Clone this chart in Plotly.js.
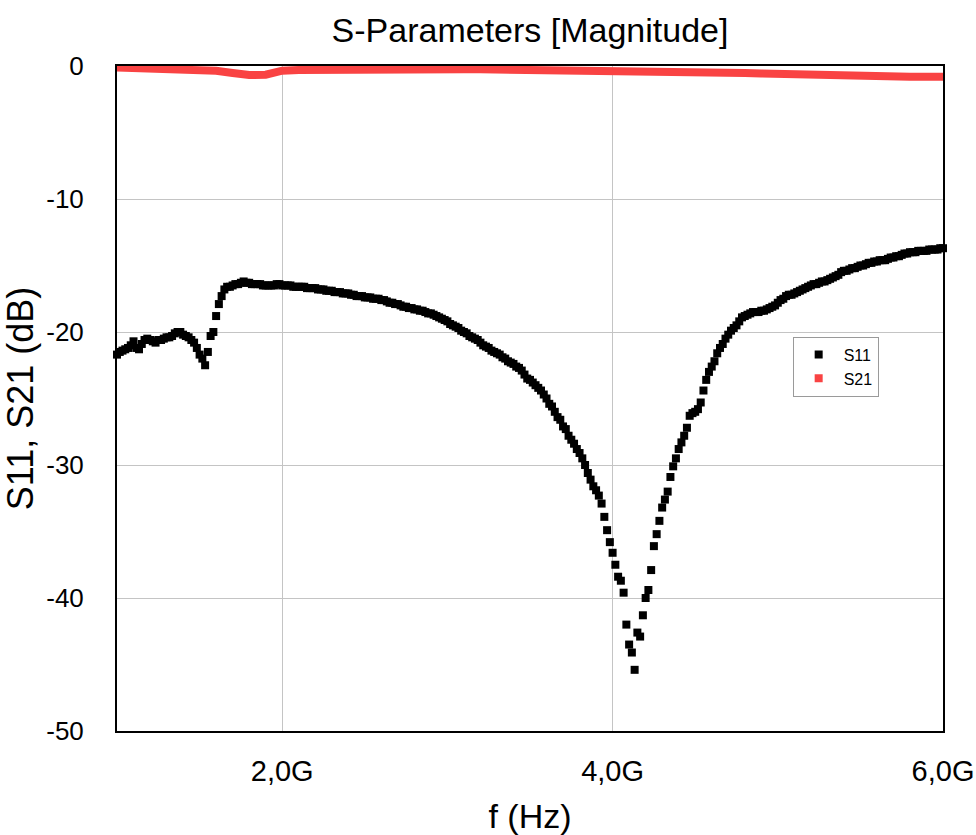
<!DOCTYPE html>
<html>
<head>
<meta charset="utf-8">
<script src="https://cdn.plot.ly/plotly-3.0.1.min.js"></script>
<style>html,body{margin:0;padding:0;background:#fff;}#chart{width:976px;height:835px;}</style>
</head>
<body>
<div id="chart"></div>
<script>
// Frequency sweep (GHz) of the S11 measurement: 301 points, 1 GHz .. 6 GHz
const sweepStart = 1.0;
const sweepStop = 6.0;
const sweepPoints = 301;

// S11 magnitude (dB), one value per sweep point
const s11 = [
  -21.7,-21.5,-21.4,-21.3,-21.2,-21.0,-20.7,-21.2,-21.3,-20.9,
  -20.6,-20.5,-20.6,-20.7,-20.8,-20.6,-20.6,-20.5,-20.4,-20.4,
  -20.3,-20.1,-20.0,-20.0,-20.2,-20.3,-20.4,-20.6,-20.8,-21.2,
  -21.7,-22.0,-22.5,-21.5,-20.3,-20.0,-18.8,-17.9,-17.3,-16.8,
  -16.6,-16.6,-16.5,-16.4,-16.4,-16.3,-16.2,-16.3,-16.3,-16.4,
  -16.4,-16.4,-16.4,-16.5,-16.5,-16.5,-16.5,-16.5,-16.4,-16.4,
  -16.5,-16.5,-16.5,-16.5,-16.6,-16.6,-16.6,-16.6,-16.6,-16.7,
  -16.7,-16.7,-16.7,-16.8,-16.8,-16.8,-16.9,-16.9,-16.9,-17.0,
  -17.0,-17.0,-17.1,-17.1,-17.1,-17.2,-17.2,-17.3,-17.3,-17.3,
  -17.4,-17.4,-17.4,-17.5,-17.5,-17.5,-17.6,-17.6,-17.7,-17.8,
  -17.8,-17.9,-17.9,-18.0,-18.1,-18.1,-18.2,-18.2,-18.3,-18.3,
  -18.4,-18.4,-18.5,-18.6,-18.6,-18.7,-18.8,-18.9,-19.0,-19.1,
  -19.2,-19.4,-19.5,-19.6,-19.7,-19.9,-20.0,-20.1,-20.3,-20.4,
  -20.5,-20.6,-20.8,-21.0,-21.1,-21.2,-21.4,-21.5,-21.6,-21.7,
  -21.9,-22.0,-22.2,-22.3,-22.4,-22.6,-22.7,-22.9,-23.2,-23.5,
  -23.6,-23.8,-24.0,-24.2,-24.4,-24.7,-25.0,-25.4,-25.6,-26.0,
  -26.4,-26.6,-27.1,-27.3,-27.8,-28.1,-28.4,-28.8,-29.1,-29.5,
  -30.0,-30.6,-31.1,-31.6,-31.9,-32.3,-32.9,-33.9,-34.9,-35.8,
  -36.6,-37.5,-38.4,-38.7,-39.6,-42.0,-43.5,-44.1,-45.4,-42.6,
  -42.9,-41.3,-40.0,-39.4,-37.9,-36.1,-35.2,-34.2,-33.2,-32.6,
  -32.0,-30.9,-30.1,-29.5,-28.8,-28.3,-27.8,-27.2,-26.3,-26.1,
  -26.0,-25.8,-25.3,-24.4,-23.6,-23.0,-22.6,-22.2,-21.6,-21.2,
  -20.9,-20.5,-20.2,-19.9,-19.7,-19.5,-19.2,-18.9,-18.8,-18.7,
  -18.6,-18.5,-18.5,-18.5,-18.4,-18.4,-18.3,-18.2,-18.1,-18.0,
  -17.8,-17.6,-17.5,-17.3,-17.2,-17.2,-17.1,-17.0,-16.9,-16.8,
  -16.7,-16.6,-16.5,-16.4,-16.4,-16.3,-16.2,-16.2,-16.1,-16.0,
  -15.9,-15.8,-15.7,-15.5,-15.4,-15.4,-15.3,-15.2,-15.2,-15.1,
  -15.0,-15.0,-14.9,-14.8,-14.8,-14.7,-14.7,-14.6,-14.6,-14.6,
  -14.5,-14.4,-14.4,-14.3,-14.3,-14.2,-14.1,-14.1,-14.0,-14.0,
  -14.0,-13.9,-13.9,-13.9,-13.9,-13.8,-13.8,-13.8,-13.8,-13.7,
  -13.7
];

// S21 magnitude (dB), read every 0.1 GHz
const s21Freq = [1.0,1.1,1.2,1.3,1.4,1.5,1.6,1.7,1.8,1.9,2.0,2.1,2.2,2.3,2.4,2.5,2.6,2.7,2.8,2.9,
  3.0,3.1,3.2,3.3,3.4,3.5,3.6,3.7,3.8,3.9,4.0,4.1,4.2,4.3,4.4,4.5,4.6,4.7,4.8,4.9,
  5.0,5.1,5.2,5.3,5.4,5.5,5.6,5.7,5.8,5.9,6.0];
const s21 = [-0.12,-0.14,-0.17,-0.20,-0.23,-0.27,-0.36,-0.52,-0.68,-0.65,-0.35,-0.30,-0.28,-0.26,-0.25,-0.24,-0.22,-0.21,-0.21,-0.22,
  -0.23,-0.24,-0.25,-0.26,-0.27,-0.28,-0.28,-0.29,-0.29,-0.30,-0.30,-0.31,-0.32,-0.34,-0.37,-0.40,-0.44,-0.48,-0.52,-0.56,
  -0.60,-0.63,-0.66,-0.69,-0.72,-0.75,-0.78,-0.80,-0.80,-0.80,-0.80];

// Axis ticks
const xTickVals = [2, 4, 6];
const xTickText = ['2,0G', '4,0G', '6,0G'];
const yTickVals = [0, -10, -20, -30, -40, -50];
const yTickText = ['0', '-10', '-20', '-30', '-40', '-50'];

const s11Freq = [];
for (let i = 0; i < sweepPoints; i++) {
  s11Freq.push(sweepStart + i * (sweepStop - sweepStart) / (sweepPoints - 1));
}

const FONT = '"Liberation Sans", Arial, sans-serif';

const traces = [
  {
    x: s21Freq, y: s21, name: 'S21', mode: 'lines', showlegend: false,
    legendgroup: 's21',
    line: {color: '#f94343', width: 8}, cliponaxis: false
  },
  {
    x: s11Freq, y: s11, name: 'S11', mode: 'markers',
    marker: {symbol: 'square', size: 8, color: '#000000'}, cliponaxis: false
  },
  {
    x: [null], y: [null], name: 'S21', mode: 'markers', legendgroup: 's21',
    marker: {symbol: 'square', size: 8, color: '#f94343'}
  }
];

const layout = {
  width: 976, height: 835,
  margin: {l: 117, r: 33, t: 66, b: 104},
  paper_bgcolor: '#ffffff', plot_bgcolor: '#ffffff',
  font: {family: FONT, color: '#000000'},
  title: {
    text: 'S-Parameters [Magnitude]',
    font: {family: FONT, size: 34, color: '#000000'},
    x: 0.5, xref: 'paper', xanchor: 'center',
    y: 0.964, yref: 'container', yanchor: 'middle'
  },
  xaxis: {
    range: [1, 6], tickvals: xTickVals, ticktext: xTickText,
    showgrid: true, gridcolor: '#c4c4c4', gridwidth: 1,
    showline: true, linecolor: '#000000', linewidth: 2, mirror: true,
    ticks: '', ticklabelstandoff: 13, zeroline: false,
    tickfont: {family: FONT, size: 29, color: '#000000'},
    title: {text: 'f (Hz)', font: {family: FONT, size: 34, color: '#000000'}, standoff: 21}
  },
  yaxis: {
    range: [-50, 0], tickvals: yTickVals, ticktext: yTickText,
    showgrid: true, gridcolor: '#c4c4c4', gridwidth: 1,
    showline: true, linecolor: '#000000', linewidth: 2, mirror: true,
    ticks: '', ticklabelstandoff: 26, zeroline: false,
    tickfont: {family: FONT, size: 26, color: '#000000'},
    title: {text: 'S11, S21 (dB)', font: {family: FONT, size: 36, color: '#000000'}, standoff: 8}
  },
  legend: {
    x: 0.818, y: 0.593, xanchor: 'left', yanchor: 'top',
    bgcolor: '#ffffff', bordercolor: '#9a9a9a', borderwidth: 1,
    font: {family: FONT, size: 16, color: '#000000'},
    tracegroupgap: 0, itemwidth: 40
  },
  showlegend: true
};

Plotly.newPlot('chart', traces, layout, {displayModeBar: false, staticPlot: true});
</script>
</body>
</html>
